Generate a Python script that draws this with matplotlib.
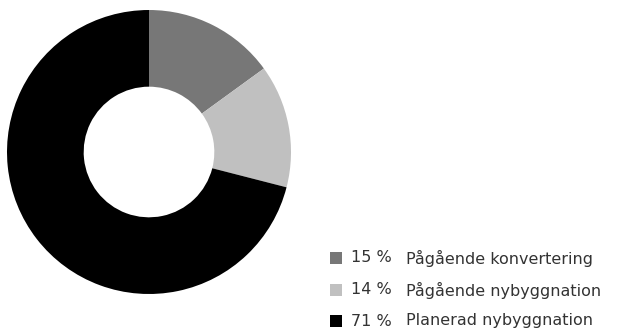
import matplotlib
matplotlib.use("Agg")
import matplotlib.pyplot as plt
from matplotlib.patches import Rectangle

labels = ["Pågående konvertering", "Pågående nybyggnation", "Planerad nybyggnation"]
shares = [15, 14, 71]
colors = ["#777777", "#c0c0c0", "#000000"]

W, H = 618, 331
fig = plt.figure(figsize=(W / 100, H / 100), dpi=100)

# donut, center ~ (149, 152) px, radius ~142 px
ax = fig.add_axes([7 / W, (H - 294) / H, 284 / W, 284 / H])
ax.pie(shares, colors=colors, startangle=90, counterclock=False,
       radius=1.0, wedgeprops=dict(width=0.54, linewidth=0))
ax.set_xlim(-1, 1)
ax.set_ylim(-1, 1)
ax.set_aspect("equal")
ax.axis("off")

# legend
font = dict(family="DejaVu Sans", fontsize=11.5, color="#333333")
rows_y = [258, 290, 321]
for y, v, lab, c in zip(rows_y, shares, labels, colors):
    fig.patches.append(Rectangle((330 / W, (H - y - 6) / H), 12 / W, 12 / H,
                                 transform=fig.transFigure, facecolor=c,
                                 edgecolor="none"))
    fig.text(351 / W, (H - y) / H, f"{v} %", va="center", ha="left", **font)
    fig.text(406 / W, (H - y) / H, lab, va="center", ha="left", **font)

fig.savefig("out.png", dpi=100)
